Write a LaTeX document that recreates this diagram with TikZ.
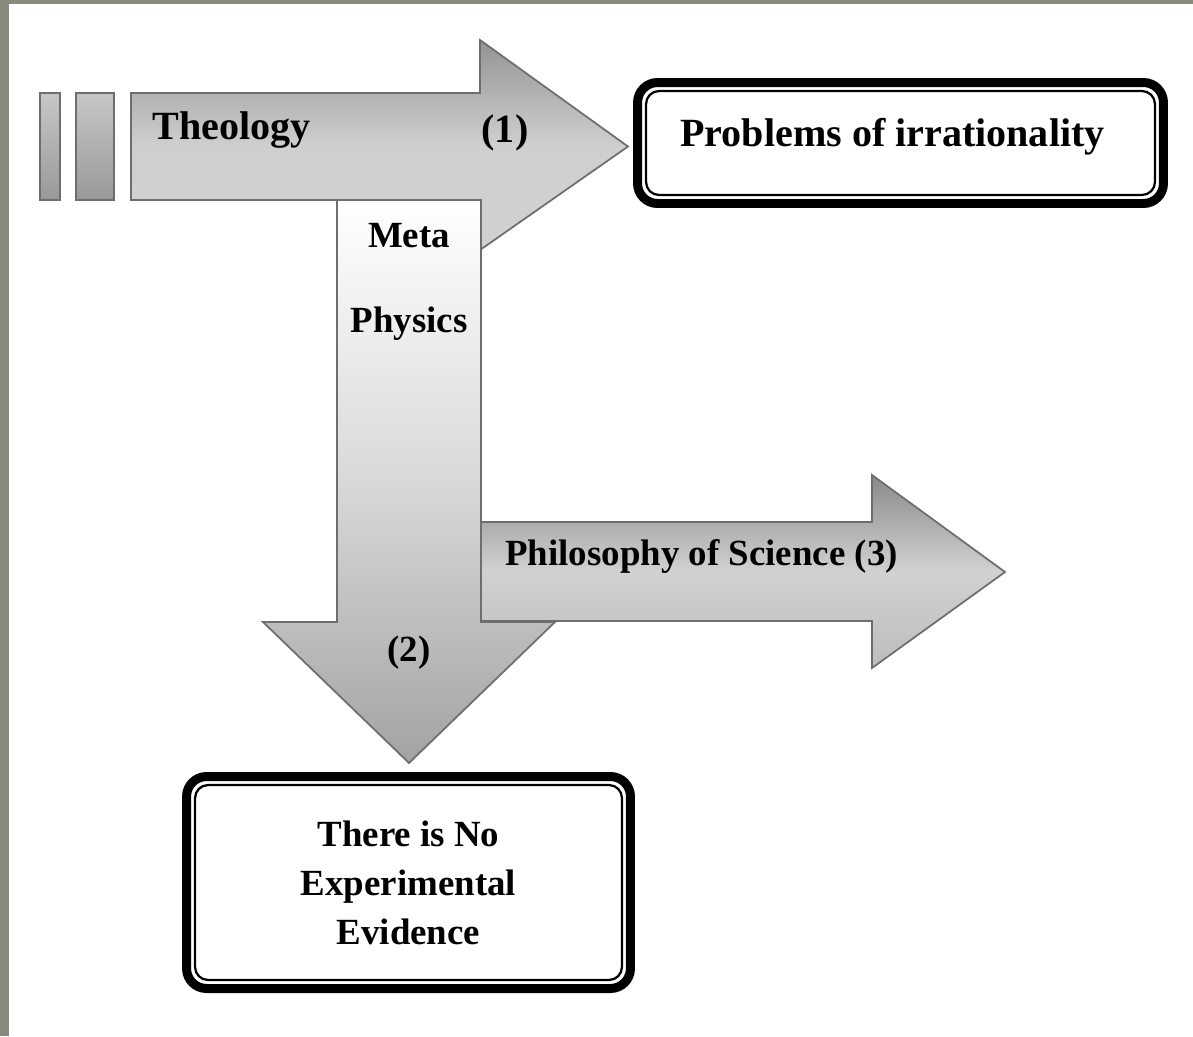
\documentclass[tikz,border=0pt]{standalone}
\usepackage{fontspec}
\setmainfont{Liberation Serif}
\usetikzlibrary{positioning,calc}

\definecolor{frame}{RGB}{134,139,124}
\definecolor{arrowline}{RGB}{110,110,110}

\tikzset{
    word/.style={
           font=\bfseries\fontsize{22.8}{27.9}\selectfont,
           inner sep=0pt,
           text=black},
    smallword/.style={
           font=\bfseries\fontsize{21}{27.9}\selectfont,
           inner sep=0pt,
           text=black},
    tag/.style={
           word,
           text height=16pt,
           text depth=5pt},
    smalltag/.style={
           smallword,
           text height=14.7pt,
           text depth=4.6pt},
    bigarrow/.style={
           draw=arrowline, line width=1pt, line join=miter},
    outerbox/.style={
           rectangle,
           rounded corners=0.4cm,
           draw=black, line width=0.18cm,
           outer sep=0pt,
           fill=white},
    innerbox/.style={
           draw=black, line width=0.045cm,
           rounded corners=0.26cm},
}

\begin{document}
\begin{tikzpicture}[x=0.02cm,y=-0.02cm]

 \useasboundingbox (0,0) rectangle (1193,1036);
 \fill[frame] (0,0) rectangle (1193,1036);
 \fill[white] (9,4) rectangle (1193,1036);

 % arrow (1)
 \draw[bigarrow, top color=black!22, bottom color=black!40] (40,93) rectangle (60,200);
 \draw[bigarrow, top color=black!22, bottom color=black!40] (76,93) rectangle (114,200);
 \draw[bigarrow, top color=black!42, bottom color=black!18, middle color=black!19]
   (131,93) -- (480,93) -- (480,40) -- (628,146.5) -- (480,250) -- (480,200) -- (131,200) -- cycle;

 % arrow (2)
 \draw[bigarrow, top color=white, bottom color=black!36, middle color=black!15]
   (337,200) -- (481,200) -- (481,622) -- (555,622) -- (409,763) -- (263,622) -- (337,622) -- cycle;

 % arrow (3)
 \draw[bigarrow, top color=black!46, bottom color=black!26, middle color=black!18]
   (481,522) -- (872,522) -- (872,475) -- (1005,572) -- (872,668) -- (872,621) -- (481,621) -- cycle;

 \node[tag, anchor=west] (THEOLOGY) at (152,130) {Theology};
 \node[tag] (ONE) at (505,133) {(1)};
 \node[smalltag] (META) at (409,239) {Meta};
 \node[smalltag, below=1.0cm of META] (PHYSICS) {Physics};
 \node[smalltag] (TWO) at (409,653) {(2)};
 \node[smalltag, anchor=west] (PHILSCIENCE) at (505,557) {Philosophy of Science (3)};

 \node[outerbox,
 minimum width=10.52cm,
 minimum height=2.42cm] (PROBLEMS) at (900.5,143) {};
 \draw[innerbox] ($(PROBLEMS.north west)+(8.5,8.5)$) rectangle ($(PROBLEMS.south east)+(-8.5,-8.5)$);
 \node[tag] (PROBLEMSTEXT) at ([shift={(-8,-6)}]PROBLEMS.center) {Problems of irrationality};

 \node[outerbox, smallword,
 align=center,
 minimum width=8.88cm,
 minimum height=4.24cm] (EVIDENCE) at (408.5,882.5)
 {There is No\\Experimental\\Evidence};
 \draw[innerbox] ($(EVIDENCE.north west)+(8.5,8.5)$) rectangle ($(EVIDENCE.south east)+(-8.5,-8.5)$);

\end{tikzpicture}
\end{document}
